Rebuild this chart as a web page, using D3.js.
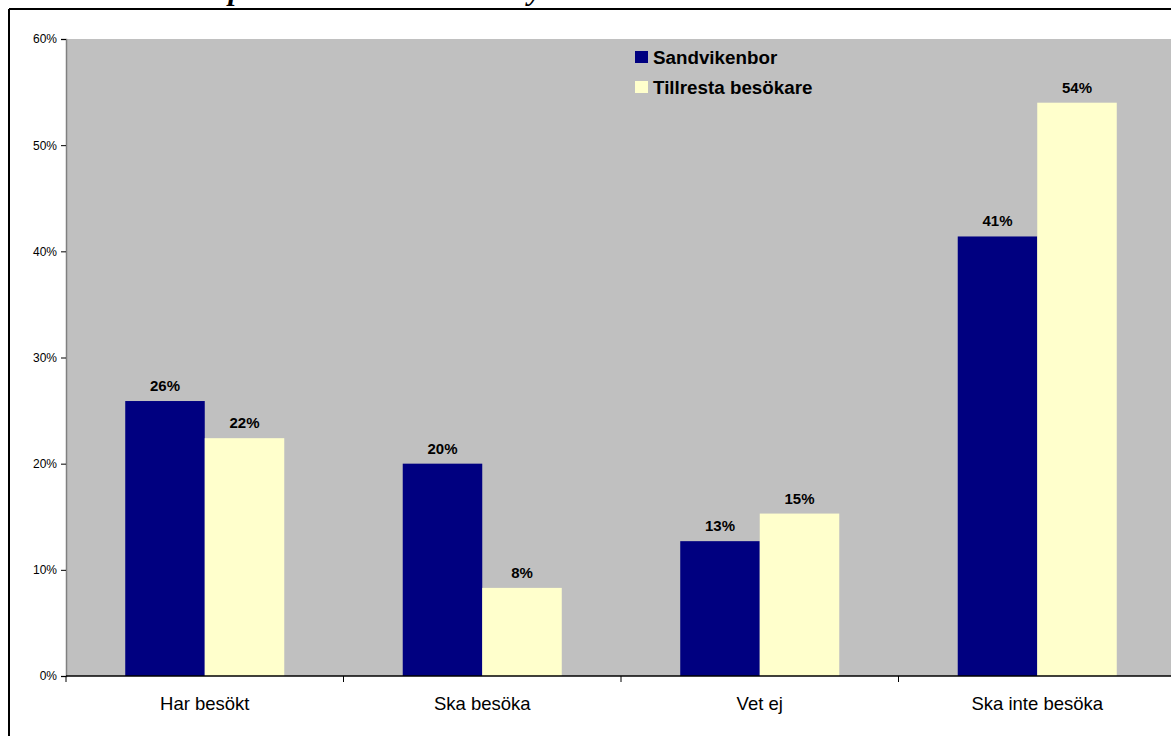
<!DOCTYPE html>
<html>
<head>
<meta charset="utf-8">
<script src="https://cdn.jsdelivr.net/npm/d3@7"></script>
<style>
  html, body { margin: 0; padding: 0; background: #fff; overflow: hidden; }
  svg { display: block; }
</style>
</head>
<body>
<svg id="chart" width="1171" height="736"></svg>
<script>
// Andel som besökt / tänker besöka, per grupp (procent)
const categories = ["Har besökt", "Ska besöka", "Vet ej", "Ska inte besöka"];
const seriesNames = ["Sandvikenbor", "Tillresta besökare"];
const sandvikenbor = [25.9, 20.0, 12.7, 41.4];
const tillresta = [22.4, 8.3, 15.3, 54.0];
const yTicks = [0, 10, 20, 30, 40, 50, 60];
const colors = ["#000080", "#FFFFCC"];

const svg = d3.select("#chart");

// Frame around the chart (top and left edges visible)
svg.append("line").attr("x1", 9).attr("x2", 1171).attr("y1", 9).attr("y2", 9)
  .attr("stroke", "#000").attr("stroke-width", 2);
svg.append("line").attr("x1", 9).attr("x2", 9).attr("y1", 9).attr("y2", 736)
  .attr("stroke", "#000").attr("stroke-width", 2);

// Descenders of the heading line above the frame
const headingFont = "'Liberation Serif', 'DejaVu Serif', serif";
[["p", 236], ["y", 535]].forEach(([ch, x]) => {
  svg.append("text").attr("x", x).attr("y", 0)
    .attr("text-anchor", "middle")
    .attr("font-family", headingFont).attr("font-style", "italic").attr("font-weight", "bold")
    .attr("font-size", 30).text(ch);
});

const plot = { left: 66, top: 39, bottom: 676, step: 277.5 };
plot.right = plot.left + plot.step * categories.length;

const y = d3.scaleLinear().domain([0, 60]).range([plot.bottom, plot.top]);
const x0 = d3.scaleBand().domain(categories).range([plot.left, plot.right]).padding(0);
const x1 = d3.scaleBand().domain(seriesNames).range([0, x0.bandwidth()])
  .paddingInner(0).paddingOuter(0.745);

// Plot area
svg.append("rect").attr("x", plot.left).attr("y", plot.top)
  .attr("width", plot.right - plot.left).attr("height", plot.bottom - plot.top)
  .attr("fill", "#C0C0C0");

const font = "Arial, 'Liberation Sans', sans-serif";

// Y axis
const yAxis = svg.append("g").attr("transform", `translate(${plot.left},0)`)
  .call(d3.axisLeft(y).tickValues(yTicks).tickFormat(d => d + "%").tickSize(5).tickPadding(4));
yAxis.select(".domain").attr("stroke", "#808080").attr("stroke-width", 1.5);
yAxis.selectAll(".tick line").attr("stroke", "#000");
yAxis.selectAll(".tick text").attr("font-family", font).attr("font-size", 12).attr("fill", "#000");

// Bars
const data = categories.map((c, i) => ({ cat: c, vals: [sandvikenbor[i], tillresta[i]] }));
const groups = svg.append("g").selectAll("g").data(data).join("g")
  .attr("transform", d => `translate(${x0(d.cat)},0)`);

groups.selectAll("rect").data(d => d.vals.map((v, j) => ({ name: seriesNames[j], v, j })))
  .join("rect")
  .attr("x", d => x1(d.name))
  .attr("width", x1.bandwidth())
  .attr("y", d => y(d.v))
  .attr("height", d => y(0) - y(d.v))
  .attr("fill", d => colors[d.j]);

// Value labels
groups.selectAll("text.val").data(d => d.vals.map((v, j) => ({ name: seriesNames[j], v, j })))
  .join("text").attr("class", "val")
  .attr("x", d => x1(d.name) + x1.bandwidth() / 2)
  .attr("y", d => y(d.v) - 10)
  .attr("text-anchor", "middle")
  .attr("font-family", font).attr("font-weight", "bold").attr("font-size", 15)
  .attr("fill", "#000")
  .text(d => Math.round(d.v) + "%");

// X axis with ticks between categories
const boundaries = d3.range(categories.length + 1).map(i => plot.left + i * x0.step());
const xAxis = svg.append("g");
xAxis.append("line").attr("x1", plot.left).attr("x2", plot.right)
  .attr("y1", plot.bottom).attr("y2", plot.bottom)
  .attr("stroke", "#000").attr("stroke-width", 1.5);
xAxis.selectAll("line.tick").data(boundaries).join("line").attr("class", "tick")
  .attr("x1", d => d).attr("x2", d => d)
  .attr("y1", plot.bottom).attr("y2", plot.bottom + 6)
  .attr("stroke", "#000");
xAxis.selectAll("text").data(categories).join("text")
  .attr("x", d => x0(d) + x0.bandwidth() / 2)
  .attr("y", 710)
  .attr("text-anchor", "middle")
  .attr("font-family", font).attr("font-size", 18.5).attr("fill", "#000")
  .text(d => d);

// Legend
const legend = svg.append("g").attr("transform", "translate(635,51)");
const items = legend.selectAll("g").data(seriesNames).join("g")
  .attr("transform", (d, i) => `translate(0,${i * 30})`);
items.append("rect").attr("width", 13).attr("height", 12)
  .attr("fill", (d, i) => colors[i]);
items.append("text").attr("x", 18).attr("y", 12.5)
  .attr("font-family", font).attr("font-weight", "bold").attr("font-size", 18.8)
  .attr("fill", "#000").text(d => d);
</script>
</body>
</html>
